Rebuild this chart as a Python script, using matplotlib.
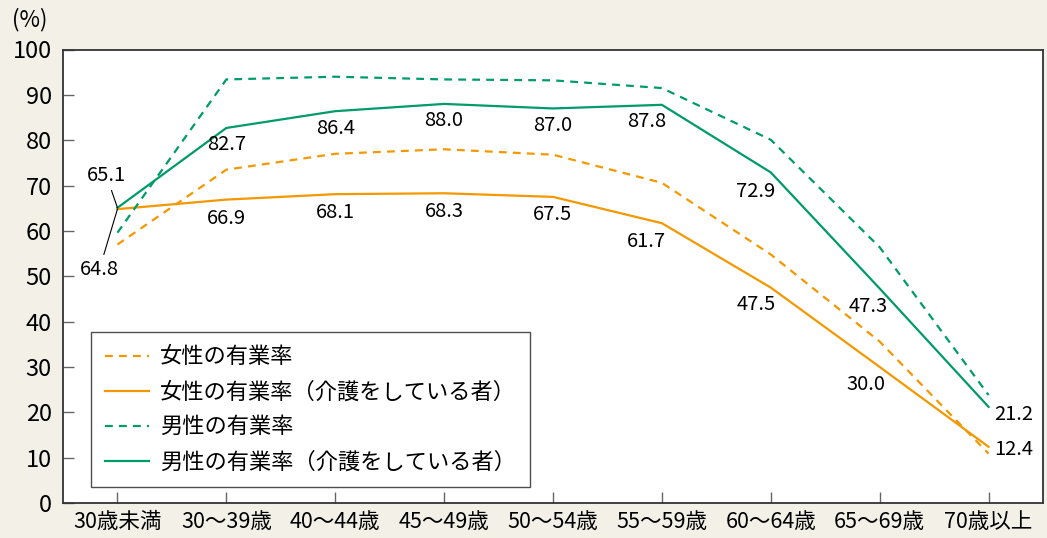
import matplotlib.pyplot as plt

plt.rcParams['font.family'] = ['Noto Sans CJK JP', 'DejaVu Sans']

categories = ['30歳未満', '30～39歳', '40～44歳', '45～49歳', '50～54歳',
              '55～59歳', '60～64歳', '65～69歳', '70歳以上']

women_all = [57.0, 73.5, 77.0, 78.0, 76.8, 70.6, 54.8, 35.6, 10.9]
women_care = [64.8, 66.9, 68.1, 68.3, 67.5, 61.7, 47.5, 30.0, 12.4]
men_all = [59.6, 93.4, 94.0, 93.4, 93.2, 91.5, 80.1, 56.4, 23.8]
men_care = [65.1, 82.7, 86.4, 88.0, 87.0, 87.8, 72.9, 47.3, 21.2]

legend_labels = ['女性の有業率', '女性の有業率（介護をしている者）',
                 '男性の有業率', '男性の有業率（介護をしている者）']

# label offsets in pixels (dx, dy)
men_offsets = [(-11, 32), (0, -17), (0, -17), (0, -17), (0, -17),
               (-15, -17), (-15, -19), (-11, -18), (25, -8)]
women_offsets = [(-18, -60), (0, -19), (0, -18), (0, -18), (0, -18),
                 (-15, -18), (-15, -17), (-14, -18), (25, -3)]

ORANGE = '#F39800'
GREEN = '#009B6B'
BG = '#F3F0E8'

fig = plt.figure(figsize=(10.47, 5.38), dpi=100, facecolor=BG)
ax = fig.add_axes([63 / 1047, 35 / 538, 980 / 1047, 453.5 / 538])
ax.set_facecolor('white')

x = list(range(len(categories)))
dash = (0, (3.5, 2.8))
ax.plot(x, women_all, color=ORANGE, lw=1.6, ls=dash, label=legend_labels[0])
ax.plot(x, women_care, color=ORANGE, lw=1.6, label=legend_labels[1])
ax.plot(x, men_all, color=GREEN, lw=1.6, ls=dash, label=legend_labels[2])
ax.plot(x, men_care, color=GREEN, lw=1.6, label=legend_labels[3])

leader = dict(arrowstyle='-', color='black', lw=0.8, shrinkA=1, shrinkB=0)

for vals, offs in ((men_care, men_offsets), (women_care, women_offsets)):
    for i, v in enumerate(vals):
        dx, dy = offs[i]
        ax.annotate(f'{v:.1f}', (i, v), xytext=(dx, dy), textcoords='offset pixels',
                    ha='center', va='center', fontsize=14.5,
                    arrowprops=leader if i == 0 else None)

ax.set_xlim(-0.5, 8.5)
ax.set_ylim(0, 100)
ax.set_yticks(range(0, 101, 10))
ax.set_xticks(x)
ax.set_xticklabels(categories, fontsize=15.5)
ax.tick_params(axis='y', direction='in', length=8, width=1, color='#666666',
               labelsize=17, pad=8)
ax.tick_params(axis='x', direction='in', length=8, width=1, color='#666666',
               pad=6)
for s in ax.spines.values():
    s.set_color('#333333')
    s.set_linewidth(1.3)

leg = ax.legend(loc='lower left', bbox_to_anchor=(0.0286, 0.035), fontsize=16,
                frameon=True, fancybox=False, handlelength=2.0,
                labelspacing=0.54, borderpad=0.62, handletextpad=0.5,
                borderaxespad=0)
leg.get_frame().set_edgecolor('#222222')
leg.get_frame().set_linewidth(1.0)

fig.text(12 / 1047, 1 - 20 / 538, '(%)', fontsize=16, va='center', ha='left')

fig.savefig('out.png', dpi=100, facecolor=BG)
